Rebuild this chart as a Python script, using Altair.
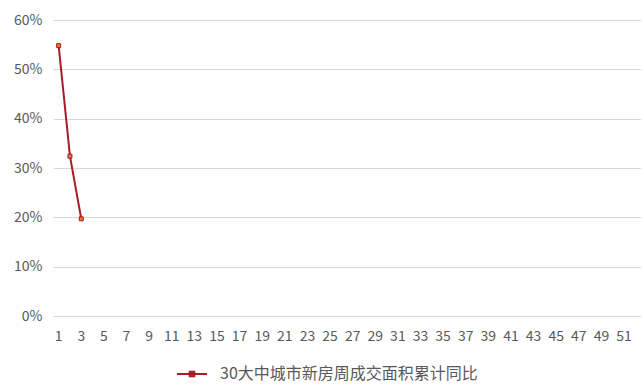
import altair as alt
import pandas as pd

weeks = list(range(1, 53))
data_weeks = [1, 2, 3]
values = [0.548, 0.324, 0.197]
series = "30大中城市新房周成交面积累计同比"
y_ticks = [0, 0.1, 0.2, 0.3, 0.4, 0.5, 0.6]

df = pd.DataFrame({"week": data_weeks, "value": values, "series": [series] * len(values)})

FONT = "Noto Sans CJK SC"
LINE = "#a61c25"

base = alt.Chart(df).encode(
    x=alt.X("week:O", scale=alt.Scale(type="band", domain=weeks, paddingInner=0, paddingOuter=0),
            axis=alt.Axis(title=None, labelAngle=0, ticks=False, domain=False, grid=False,
                          labelExpr="datum.value % 2 == 1 ? datum.label : ''",
                          labelFont=FONT, labelFontSize=14, labelColor="#595959", labelPadding=13)),
    y=alt.Y("value:Q", scale=alt.Scale(domain=[0, 0.6], nice=False),
            axis=alt.Axis(title=None, format=".0%", values=y_ticks, labelOverlap=False,
                          ticks=False, domain=False, gridColor="#d9d9d9", gridWidth=1,
                          labelFont=FONT, labelFontSize=14, labelColor="#595959", labelPadding=11)),
)

line = base.mark_line(strokeWidth=2).encode(
    color=alt.Color("series:N", scale=alt.Scale(range=[LINE]),
                    legend=alt.Legend(title=None, orient="none", legendX=123, legendY=338,
                                      symbolType="M-1,0L1,0M-0.15,-0.15L0.15,-0.15L0.15,0.15L-0.15,0.15Z",
                                      symbolSize=900, symbolStrokeWidth=2, symbolFillColor="#e8772e",
                                      symbolStrokeColor=LINE, labelLimit=0,
                                      labelFont=FONT, labelFontSize=16, labelColor="#595959",
                                      labelOffset=12))
)
pts = base.mark_square(size=16, color="#e8772e", stroke=LINE, strokeWidth=1, opacity=1, filled=True)

chart = alt.layer(line, pts).properties(
    width=588, height=296,
    background="white",
    autosize=alt.AutoSizeParams(type="none"),
    padding={"left": 53, "top": 20, "right": 1, "bottom": 69},
).configure_view(strokeWidth=0, stroke="transparent")

chart.save("out.html", embed_options={"renderer": "svg", "actions": False})
